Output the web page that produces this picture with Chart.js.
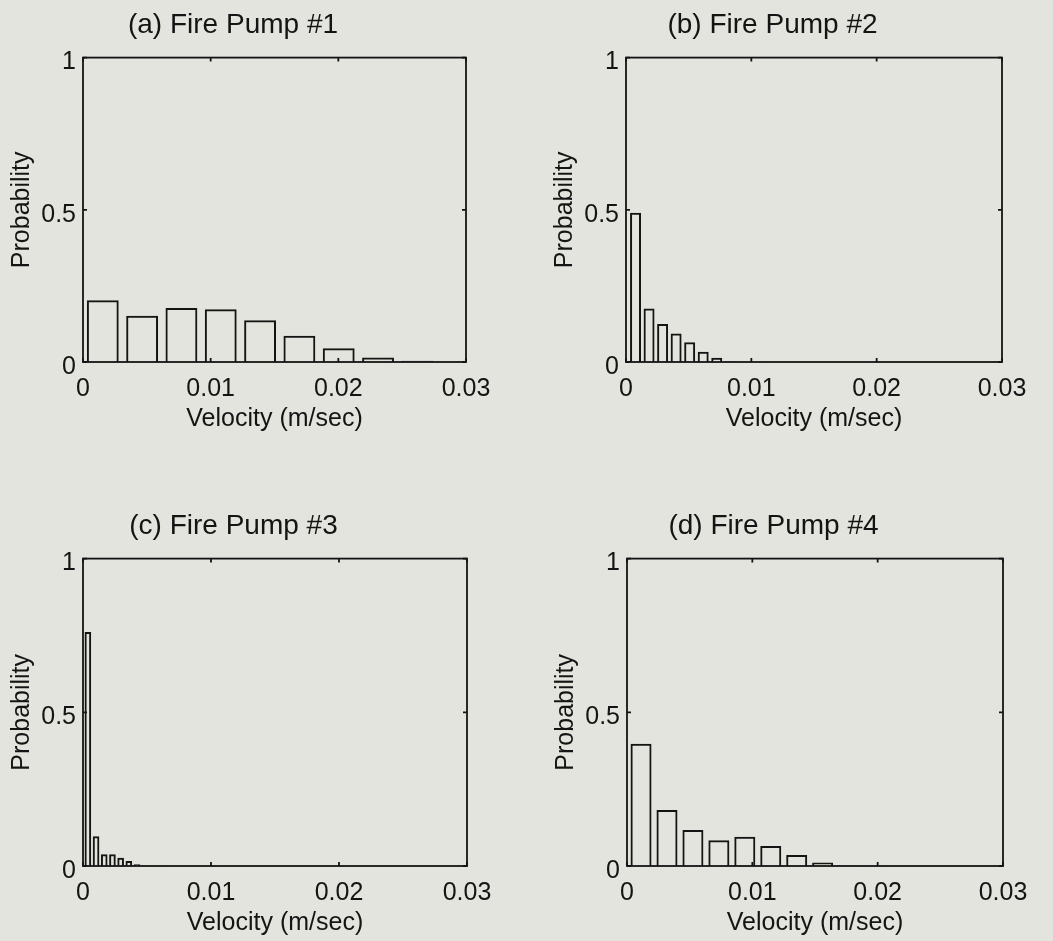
<!DOCTYPE html>
<html lang="en">
<head>
<meta charset="UTF-8">
<title>Fire Pump velocity histograms</title>
<style>
  body {
    margin: 0;
    background: #e3e4dd;
    width: 1053px;
    height: 941px;
    overflow: hidden;
    position: relative;
  }
  canvas { position: absolute; }
</style>
<script src="https://cdn.jsdelivr.net/npm/chart.js"></script>
</head>
<body>

<canvas id="chartA" width="516" height="434" style="left:0px;top:0px"></canvas>
<canvas id="chartB" width="509" height="434" style="left:543px;top:0px"></canvas>
<canvas id="chartC" width="517" height="437" style="left:0px;top:501px"></canvas>
<canvas id="chartD" width="509" height="437" style="left:544px;top:501px"></canvas>

<script>
// tick labels shared by all four panels
const xTickLabels = ['0', '0.01', '0.02', '0.03'];
const yTickLabels = ['0', '0.5', '1'];
const xTitle = 'Velocity (m/sec)';
const yTitle = 'Probability';

// (a) Fire Pump #1
const titleA = '(a) Fire Pump #1';
const binsA = [0.00155, 0.00463, 0.00771, 0.01079, 0.01387, 0.01695, 0.02003, 0.02311, 0.02619];
const probA = [0.203, 0.152, 0.177, 0.173, 0.137, 0.086, 0.045, 0.015, 0.004];

// (b) Fire Pump #2
const titleB = '(b) Fire Pump #2';
const binsB = [0.00076, 0.00184, 0.00292, 0.00400, 0.00508, 0.00616, 0.00724, 0.00832, 0.00940, 0.01048];
const probB = [0.490, 0.176, 0.125, 0.094, 0.065, 0.034, 0.014, 0.002, 0.001, 0.001];

// (c) Fire Pump #3
const titleC = '(c) Fire Pump #3';
const binsC = [0.00038, 0.00102, 0.00166, 0.00230, 0.00294, 0.00358, 0.00422, 0.00486, 0.00550, 0.00614];
const probC = [0.761, 0.097, 0.038, 0.038, 0.027, 0.016, 0.006, 0.002, 0.001, 0.001];

// (d) Fire Pump #4
const titleD = '(d) Fire Pump #4';
const binsD = [0.00112, 0.00319, 0.00526, 0.00733, 0.00940, 0.01147, 0.01354, 0.01561, 0.01768, 0.01975];
const probD = [0.398, 0.182, 0.117, 0.084, 0.095, 0.065, 0.036, 0.011, 0.002, 0.001];

const ink = '#141414';
const fontFamily = "'Liberation Sans', Arial, sans-serif";

// box around the plot plus small inward ticks on all sides (matlab style)
const framePlugin = {
    id: 'frame',
    afterDatasetsDraw(chart) {
        const { ctx, chartArea: a, scales: { x, y } } = chart;
        ctx.save();
        ctx.strokeStyle = ink;
        ctx.lineWidth = 1.8;
        ctx.strokeRect(a.left, a.top, a.right - a.left, a.bottom - a.top);
        ctx.beginPath();
        x.ticks.forEach(t => {
            const px = x.getPixelForValue(t.value);
            ctx.moveTo(px, a.bottom); ctx.lineTo(px, a.bottom - 4);
            ctx.moveTo(px, a.top); ctx.lineTo(px, a.top + 4);
        });
        y.ticks.forEach(t => {
            const py = y.getPixelForValue(t.value);
            ctx.moveTo(a.left, py); ctx.lineTo(a.left + 4, py);
            ctx.moveTo(a.right, py); ctx.lineTo(a.right - 4, py);
        });
        ctx.stroke();
        ctx.restore();
    }
};

function makeHist(canvasId, title, bins, probs) {
    return new Chart(document.getElementById(canvasId), {
        type: 'bar',
        data: {
            datasets: [{
                data: bins.map((b, i) => ({ x: b, y: probs[i] })),
                backgroundColor: 'rgba(0,0,0,0)',
                borderColor: ink,
                borderWidth: 2,
                borderSkipped: 'start',
                barPercentage: 0.81,
                categoryPercentage: 1.0
            }]
        },
        options: {
            responsive: false,
            animation: false,
            layout: { padding: { top: 3.8, right: 50, left: 0, bottom: 0 } },
            plugins: {
                legend: { display: false },
                tooltip: { enabled: false },
                title: {
                    display: true,
                    text: title,
                    color: ink,
                    font: { family: fontFamily, size: 28, weight: 'normal' },
                    padding: { top: 5, bottom: 15.2 }
                }
            },
            scales: {
                x: {
                    type: 'linear',
                    offset: false,
                    min: 0,
                    max: 0.03,
                    grid: { display: false, drawTicks: false, offset: false },
                    border: { display: false },
                    ticks: {
                        stepSize: 0.01,
                        autoSkip: false,
                        maxRotation: 0,
                        padding: 12,
                        color: ink,
                        font: { family: fontFamily, size: 25 },
                        callback: (v, i) => xTickLabels[i]
                    },
                    title: {
                        display: true,
                        text: xTitle,
                        color: ink,
                        font: { family: fontFamily, size: 25 },
                        padding: { top: 0, bottom: 0 }
                    },
                    afterFit: s => { s.height = 72; }
                },
                y: {
                    min: 0,
                    max: 1,
                    grid: { display: false, drawTicks: false },
                    border: { display: false },
                    ticks: {
                        stepSize: 0.5,
                        padding: 7,
                        labelOffset: 5,
                        color: ink,
                        font: { family: fontFamily, size: 25 },
                        callback: (v, i) => yTickLabels[i]
                    },
                    title: {
                        display: true,
                        text: yTitle,
                        color: ink,
                        font: { family: fontFamily, size: 25 },
                        padding: { top: 7, bottom: 0 }
                    },
                    afterFit: s => { s.width = 83; }
                }
            }
        },
        plugins: [framePlugin]
    });
}

makeHist('chartA', titleA, binsA, probA);
makeHist('chartB', titleB, binsB, probB);
makeHist('chartC', titleC, binsC, probC);
makeHist('chartD', titleD, binsD, probD);
</script>
</body>
</html>
